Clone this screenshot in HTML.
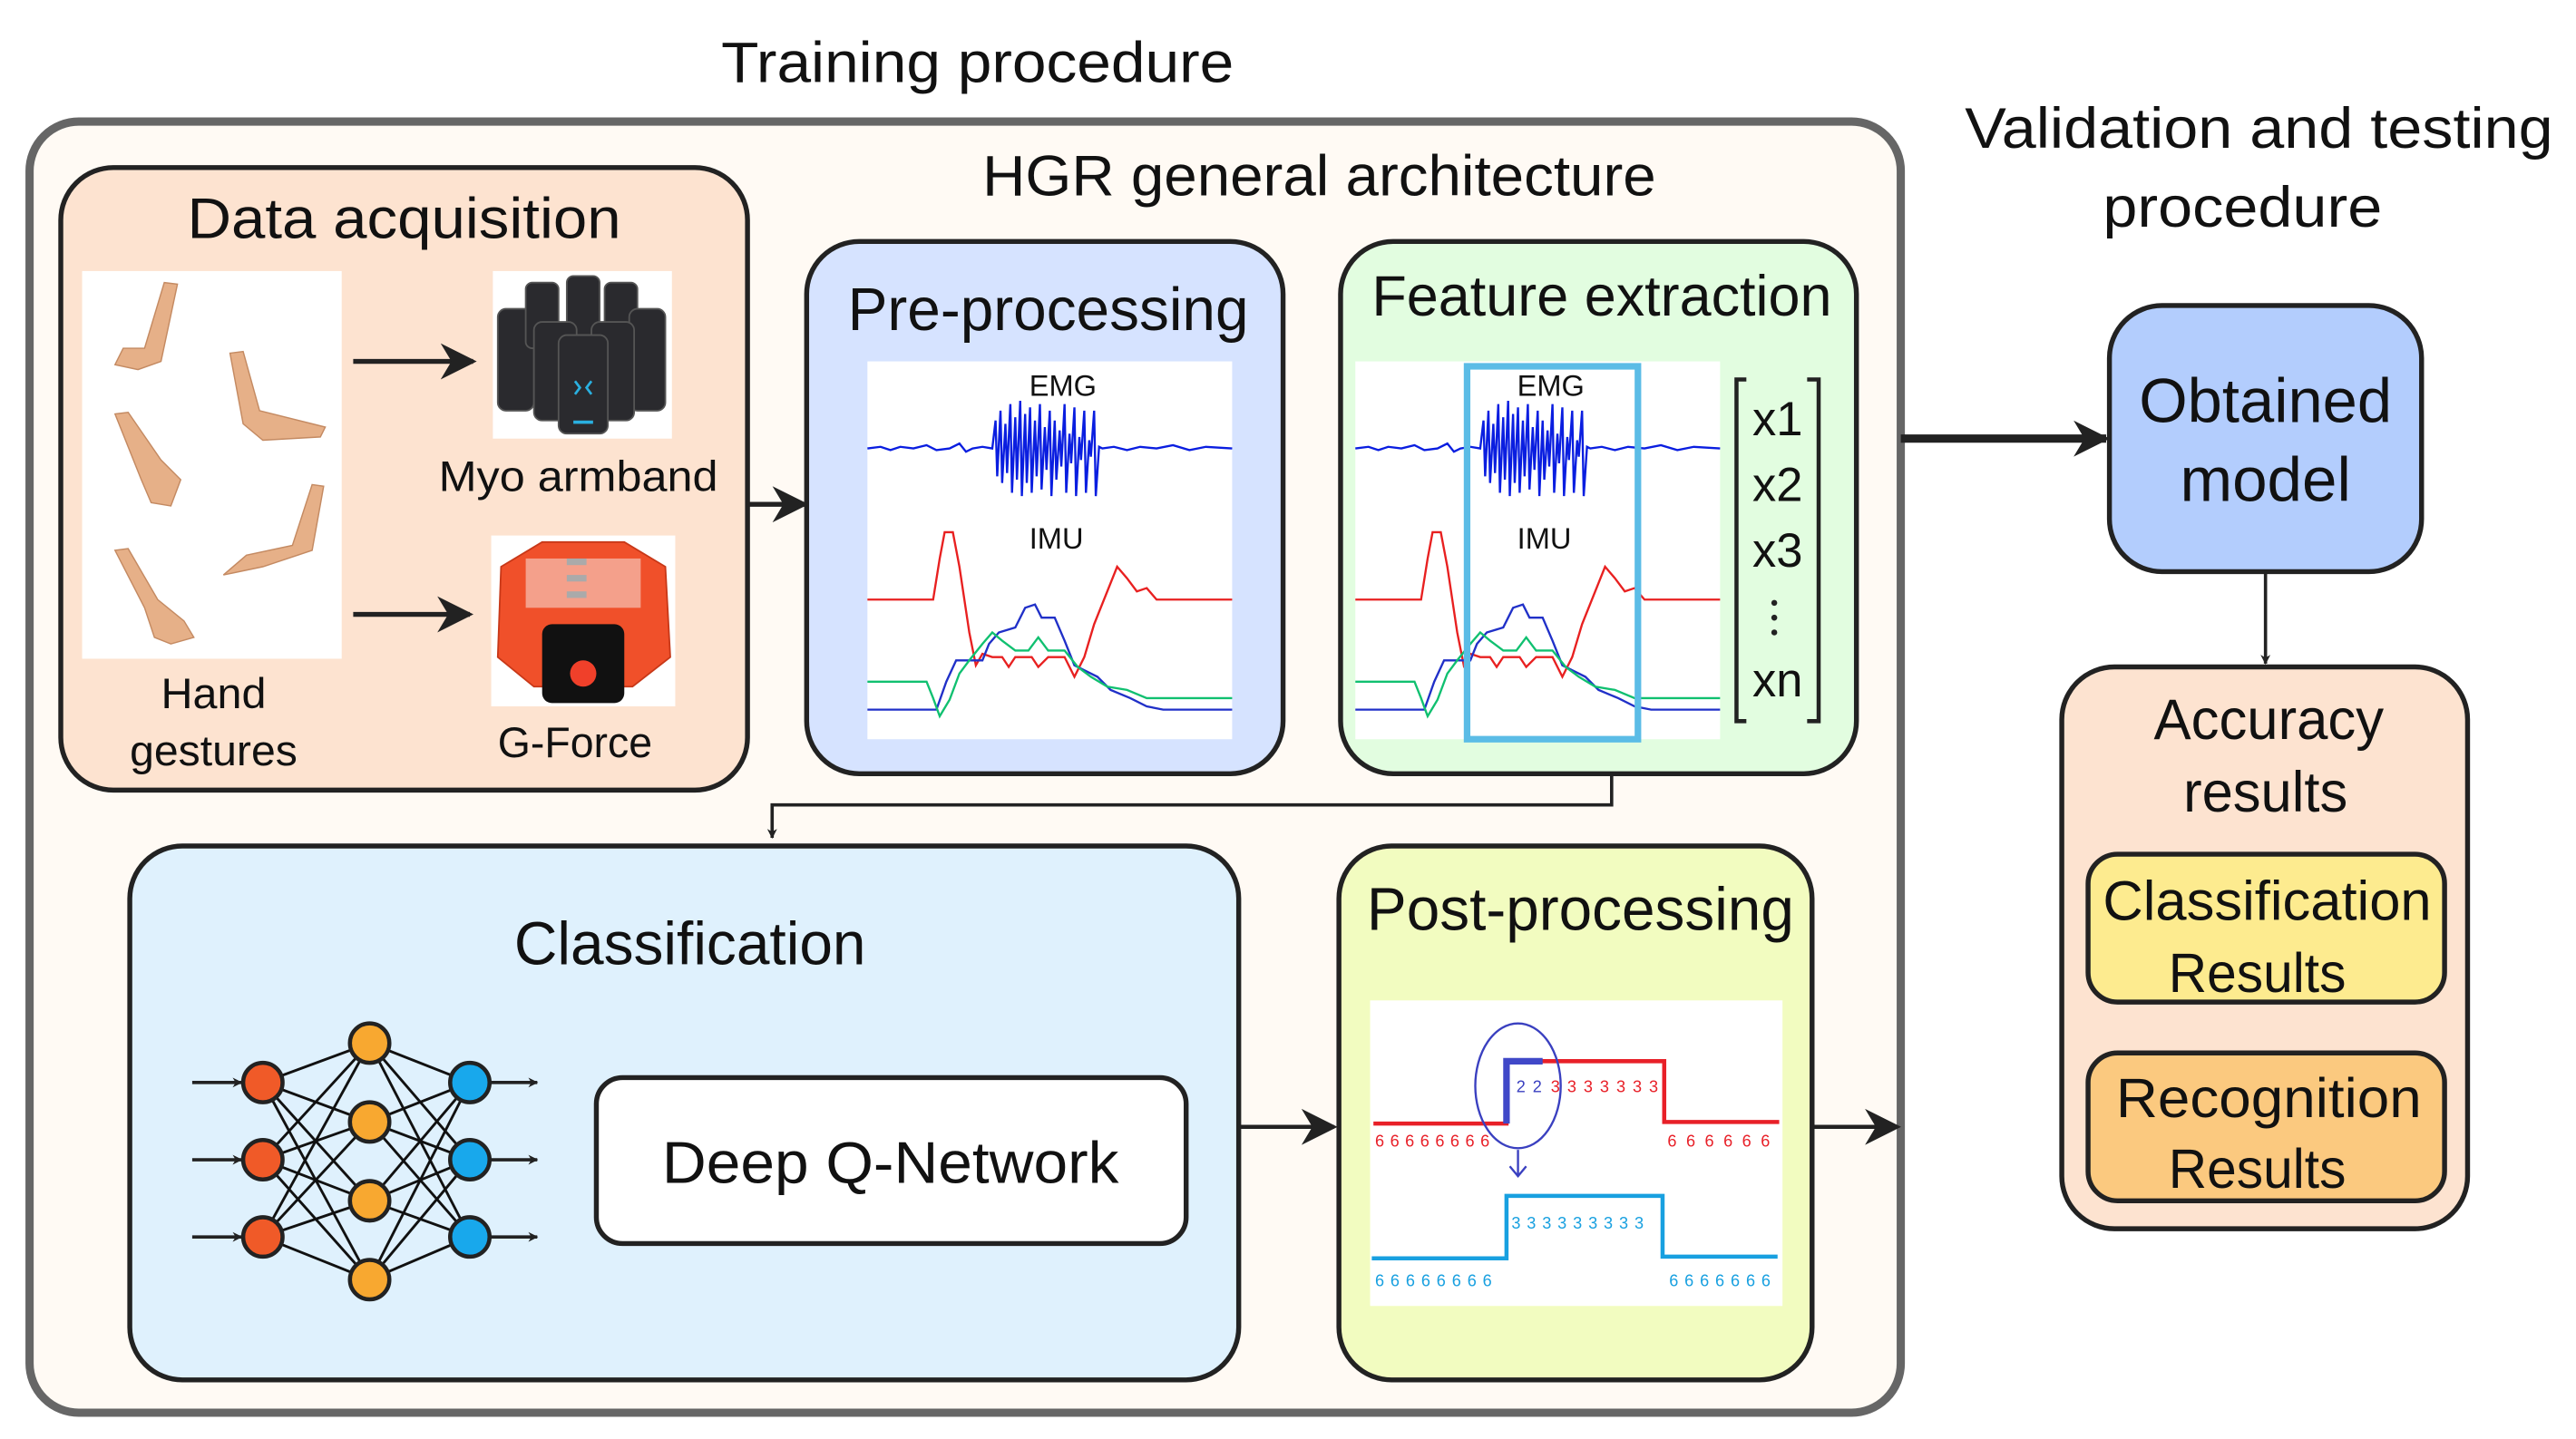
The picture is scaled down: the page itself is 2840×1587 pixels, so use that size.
<!DOCTYPE html>
<html><head><meta charset="utf-8"><style>
html,body{margin:0;padding:0;background:#fff;}
svg{display:block;}
text{font-family:"Liberation Sans",sans-serif;}
</style></head><body>
<svg width="2840" height="1587" viewBox="0 0 1568 876" preserveAspectRatio="none" xmlns="http://www.w3.org/2000/svg" fill="#111">
<defs>
<marker id="ah" viewBox="0 0 10 10" refX="9" refY="5" markerWidth="6" markerHeight="6" orient="auto" markerUnits="userSpaceOnUse">
<path d="M0,0 L10,5 L0,10 L3,5 z" fill="#222"/></marker>
<marker id="ah2" viewBox="0 0 10 10" refX="9" refY="5" markerWidth="22" markerHeight="22" orient="auto" markerUnits="userSpaceOnUse">
<path d="M0,0 L10,5 L0,10 L3,5 z" fill="#222"/></marker>
<g id="sig">
<rect x="0" y="0" width="222" height="230" fill="#fff"/>
<polyline fill="none" stroke="#0a1ee0" stroke-width="1.3" points="0,53 8,52 14,54 20,52 28,53 36,51 42,54 50,53 56,50 60,55 64,53 70,52 76,53 78,36 79,70 81,30 82,74 84,38 85,68 87,26 88,80 90,34 91,72 93,24 94,82 96,32 97,74 99,28 100,80 102,36 103,70 105,26 106,78 108,40 109,66 111,30 112,82 114,36 115,72 117,42 118,64 120,26 121,80 123,44 124,62 126,28 127,82 129,46 130,60 132,30 133,80 135,48 136,58 138,30 139,82 141,52 143,53 150,52 158,54 166,52 176,53 186,51 196,54 206,52 222,53"/>
<polyline fill="none" stroke="#e82020" stroke-width="1.3" points="0,145 40,145 44,120 47,104 52,104 56,125 62,165 66,185 70,178 76,180 82,180 86,186 90,180 100,180 104,186 110,180 120,180 126,192 132,180 138,160 146,140 152,125 158,132 164,140 170,138 176,145 184,145 222,145"/>
<polyline fill="none" stroke="#2030c8" stroke-width="1.3" points="0,212 42,212 48,195 54,182 70,182 74,172 80,165 90,162 96,150 102,148 106,156 114,156 120,170 126,185 132,188 140,192 148,200 160,205 170,210 180,212 222,212"/>
<polyline fill="none" stroke="#10c070" stroke-width="1.3" points="0,195 36,195 40,205 44,216 50,206 56,190 62,182 70,172 76,165 82,170 90,176 98,176 104,168 110,176 120,176 128,186 136,192 146,198 158,200 170,205 222,205"/>
</g>
</defs>

<text x="595" y="50" font-size="35" text-anchor="middle" textLength="312" lengthAdjust="spacingAndGlyphs">Training procedure</text>
<text x="1375" y="90" font-size="35" text-anchor="middle" textLength="358" lengthAdjust="spacingAndGlyphs">Validation and testing</text>
<text x="1365" y="138" font-size="35" text-anchor="middle" textLength="170" lengthAdjust="spacingAndGlyphs">procedure</text>

<rect x="18" y="74" width="1139" height="786" rx="30" fill="#fffaf4" stroke="#666" stroke-width="5"/>
<text x="803" y="119" font-size="35" text-anchor="middle" textLength="410" lengthAdjust="spacingAndGlyphs">HGR general architecture</text>

<rect x="37" y="102" width="418" height="379" rx="32" fill="#fde3d0" stroke="#222" stroke-width="3"/>
<text x="246" y="145" font-size="35" text-anchor="middle" textLength="264" lengthAdjust="spacingAndGlyphs">Data acquisition</text>
<rect x="50" y="165" width="158" height="236" fill="#fff"/>
<g fill="#e6b088" stroke="#c48a62" stroke-width="0.8">
<path d="M100,172 L108,173 L98,220 L84,225 L70,222 L75,212 L88,212 z"/>
<path d="M140,215 L148,214 L158,250 L198,260 L195,266 L160,268 L148,258 z"/>
<path d="M70,252 L78,251 L98,280 L110,292 L104,308 L92,306 L86,292 z"/>
<path d="M190,295 L197,296 L190,335 L160,345 L136,350 L150,338 L178,332 z"/>
<path d="M70,335 L78,334 L96,365 L112,378 L118,388 L104,392 L94,388 L88,370 z"/>
</g>
<line x1="215" y1="220" x2="288" y2="220" stroke="#222" stroke-width="3" marker-end="url(#ah2)"/>
<line x1="215" y1="374" x2="286" y2="374" stroke="#222" stroke-width="3" marker-end="url(#ah2)"/>
<rect x="300" y="165" width="109" height="102" fill="#fff"/>
<g fill="#2a2a2e" stroke="#555" stroke-width="1">
<rect x="303" y="188" width="22" height="62" rx="5"/>
<rect x="320" y="172" width="20" height="40" rx="4"/>
<rect x="345" y="168" width="20" height="36" rx="4"/>
<rect x="368" y="172" width="20" height="40" rx="4"/>
<rect x="383" y="188" width="22" height="62" rx="5"/>
<rect x="360" y="196" width="26" height="60" rx="5"/>
<rect x="325" y="196" width="26" height="60" rx="5"/>
<rect x="340" y="204" width="30" height="60" rx="5"/>
</g>
<path d="M350,232 l3,4 l-3,4 M360,232 l-3,4 l3,4" stroke="#2ab0e0" stroke-width="1.5" fill="none"/>
<rect x="349" y="256" width="12" height="2" fill="#2ab0e0"/>
<text x="352" y="299" font-size="26" text-anchor="middle" textLength="170" lengthAdjust="spacingAndGlyphs">Myo armband</text>
<rect x="299" y="326" width="112" height="104" fill="#fff"/>
<path d="M305,345 L330,330 L380,330 L405,345 L408,400 L385,418 L325,418 L303,400 z" fill="#f0502a" stroke="#c83818"/>
<rect x="320" y="340" width="70" height="30" fill="#f8f0ec" opacity="0.5"/>
<g fill="#aaa"><rect x="345" y="340" width="12" height="4"/><rect x="345" y="350" width="12" height="4"/><rect x="345" y="360" width="12" height="4"/></g>
<rect x="330" y="380" width="50" height="48" rx="6" fill="#111"/>
<circle cx="355" cy="410" r="8" fill="#f0402a"/>
<text x="350" y="461" font-size="26" text-anchor="middle" textLength="94" lengthAdjust="spacingAndGlyphs">G-Force</text>
<text x="130" y="431" font-size="26" text-anchor="middle" textLength="64" lengthAdjust="spacingAndGlyphs">Hand</text>
<text x="130" y="466" font-size="26" text-anchor="middle" textLength="102" lengthAdjust="spacingAndGlyphs">gestures</text>
<line x1="455" y1="307" x2="490" y2="307" stroke="#222" stroke-width="3" marker-end="url(#ah2)"/>

<rect x="491" y="147" width="290" height="324" rx="32" fill="#d6e3ff" stroke="#222" stroke-width="3"/>
<text x="638" y="201" font-size="37" text-anchor="middle" textLength="244" lengthAdjust="spacingAndGlyphs">Pre-processing</text>
<use href="#sig" x="528" y="220"/>
<text x="647" y="241" font-size="18" text-anchor="middle">EMG</text>
<text x="643" y="334" font-size="18" text-anchor="middle">IMU</text>

<rect x="816" y="147" width="314" height="324" rx="32" fill="#e2fde0" stroke="#222" stroke-width="3"/>
<text x="975" y="192" font-size="35" text-anchor="middle" textLength="280" lengthAdjust="spacingAndGlyphs">Feature extraction</text>
<use href="#sig" x="825" y="220"/>
<rect x="893" y="223" width="104" height="227" fill="none" stroke="#5bbce6" stroke-width="4"/>
<text x="944" y="241" font-size="18" text-anchor="middle">EMG</text>
<text x="940" y="334" font-size="18" text-anchor="middle">IMU</text>
<path d="M1063,231 L1057,231 L1057,439 L1063,439 M1100,231 L1107,231 L1107,439 L1100,439" fill="none" stroke="#222" stroke-width="2.5"/>
<g font-size="29" text-anchor="middle">
<text x="1082" y="265">x1</text><text x="1082" y="305">x2</text><text x="1082" y="345">x3</text><text x="1082" y="424">xn</text></g>
<g fill="#222"><circle cx="1080" cy="367" r="1.8"/><circle cx="1080" cy="376" r="1.8"/><circle cx="1080" cy="385" r="1.8"/></g>

<polyline points="981,471 981,490 470,490 470,510" fill="none" stroke="#222" stroke-width="2" marker-end="url(#ah)"/>

<rect x="79" y="515" width="675" height="325" rx="32" fill="#dff1fd" stroke="#222" stroke-width="3"/>
<text x="420" y="587" font-size="37" text-anchor="middle" textLength="214" lengthAdjust="spacingAndGlyphs">Classification</text>
<g stroke="#111" stroke-width="1.6">
<line x1="160" y1="659" x2="225" y2="635"/><line x1="160" y1="659" x2="225" y2="683"/><line x1="160" y1="659" x2="225" y2="731"/><line x1="160" y1="659" x2="225" y2="779"/>
<line x1="160" y1="706" x2="225" y2="635"/><line x1="160" y1="706" x2="225" y2="683"/><line x1="160" y1="706" x2="225" y2="731"/><line x1="160" y1="706" x2="225" y2="779"/>
<line x1="160" y1="753" x2="225" y2="635"/><line x1="160" y1="753" x2="225" y2="683"/><line x1="160" y1="753" x2="225" y2="731"/><line x1="160" y1="753" x2="225" y2="779"/>
<line x1="286" y1="659" x2="225" y2="635"/><line x1="286" y1="659" x2="225" y2="683"/><line x1="286" y1="659" x2="225" y2="731"/><line x1="286" y1="659" x2="225" y2="779"/>
<line x1="286" y1="706" x2="225" y2="635"/><line x1="286" y1="706" x2="225" y2="683"/><line x1="286" y1="706" x2="225" y2="731"/><line x1="286" y1="706" x2="225" y2="779"/>
<line x1="286" y1="753" x2="225" y2="635"/><line x1="286" y1="753" x2="225" y2="683"/><line x1="286" y1="753" x2="225" y2="731"/><line x1="286" y1="753" x2="225" y2="779"/>
</g>
<g stroke="#222" stroke-width="2">
<line x1="117" y1="659" x2="147" y2="659" marker-end="url(#ah)"/><line x1="117" y1="706" x2="147" y2="706" marker-end="url(#ah)"/><line x1="117" y1="753" x2="147" y2="753" marker-end="url(#ah)"/>
<line x1="298" y1="659" x2="327" y2="659" marker-end="url(#ah)"/><line x1="298" y1="706" x2="327" y2="706" marker-end="url(#ah)"/><line x1="298" y1="753" x2="327" y2="753" marker-end="url(#ah)"/>
</g>
<g stroke="#222" stroke-width="2.5">
<circle cx="160" cy="659" r="12" fill="#f05a28"/><circle cx="160" cy="706" r="12" fill="#f05a28"/><circle cx="160" cy="753" r="12" fill="#f05a28"/>
<circle cx="225" cy="635" r="12" fill="#f8a830"/><circle cx="225" cy="683" r="12" fill="#f8a830"/><circle cx="225" cy="731" r="12" fill="#f8a830"/><circle cx="225" cy="779" r="12" fill="#f8a830"/>
<circle cx="286" cy="659" r="12" fill="#18a8ec"/><circle cx="286" cy="706" r="12" fill="#18a8ec"/><circle cx="286" cy="753" r="12" fill="#18a8ec"/>
</g>
<rect x="363" y="656" width="359" height="101" rx="16" fill="#fff" stroke="#222" stroke-width="3"/>
<text x="542" y="720" font-size="36" text-anchor="middle" textLength="278" lengthAdjust="spacingAndGlyphs">Deep Q-Network</text>
<line x1="754" y1="686" x2="812" y2="686" stroke="#222" stroke-width="2.5" marker-end="url(#ah2)"/>

<rect x="815" y="515" width="288" height="325" rx="32" fill="#f2fcc0" stroke="#222" stroke-width="3"/>
<text x="962" y="566" font-size="37" text-anchor="middle" textLength="260" lengthAdjust="spacingAndGlyphs">Post-processing</text>
<rect x="834" y="609" width="251" height="186" fill="#fff"/>
<polyline points="836,684 917,684 917,646 1013,646 1013,683 1083,683" fill="none" stroke="#e82028" stroke-width="2.5"/>
<polyline points="917,684 917,646 939,646" fill="none" stroke="#4048c8" stroke-width="4"/>
<ellipse cx="924" cy="661" rx="26" ry="38" fill="none" stroke="#3a40c0" stroke-width="1.3"/>
<path d="M924,700 L924,716 M919,710 L924,716 L929,710" fill="none" stroke="#3a40c0" stroke-width="1.3"/>
<polyline points="835,766 917,766 917,728 1012,728 1012,765 1082,765" fill="none" stroke="#18a0e0" stroke-width="2.5"/>
<g font-size="10" fill="#e82028">
<text x="837" y="698" letter-spacing="3.6">66666666</text>
<text x="1015" y="698" letter-spacing="5.8">666666</text>
<text x="944" y="665" letter-spacing="4.4">3333333</text></g>
<text x="923" y="665" font-size="10" fill="#3a40c0" letter-spacing="4.4">22</text>
<g font-size="10" fill="#18a0e0">
<text x="920" y="748" letter-spacing="3.8">333333333</text>
<text x="837" y="783" letter-spacing="3.8">66666666</text>
<text x="1016" y="783" letter-spacing="3.8">6666666</text></g>
<line x1="1103" y1="686" x2="1155" y2="686" stroke="#222" stroke-width="2.5" marker-end="url(#ah2)"/>

<line x1="1157" y1="267" x2="1282" y2="267" stroke="#222" stroke-width="5" marker-end="url(#ah2)"/>
<rect x="1284" y="186" width="190" height="162" rx="32" fill="#b3cdfd" stroke="#222" stroke-width="3"/>
<text x="1379" y="257" font-size="38" text-anchor="middle" textLength="154" lengthAdjust="spacingAndGlyphs">Obtained</text>
<text x="1379" y="305" font-size="38" text-anchor="middle" textLength="104" lengthAdjust="spacingAndGlyphs">model</text>
<line x1="1379" y1="348" x2="1379" y2="404" stroke="#222" stroke-width="2" marker-end="url(#ah)"/>
<rect x="1255" y="406" width="247" height="342" rx="32" fill="#fde3d0" stroke="#222" stroke-width="3"/>
<text x="1381" y="450" font-size="35" text-anchor="middle" textLength="140" lengthAdjust="spacingAndGlyphs">Accuracy</text>
<text x="1379" y="494" font-size="35" text-anchor="middle" textLength="100" lengthAdjust="spacingAndGlyphs">results</text>
<rect x="1271" y="520" width="217" height="90" rx="18" fill="#fdeb8f" stroke="#222" stroke-width="3"/>
<text x="1380" y="560" font-size="34" text-anchor="middle" textLength="200" lengthAdjust="spacingAndGlyphs">Classification</text>
<text x="1374" y="604" font-size="34" text-anchor="middle" textLength="108" lengthAdjust="spacingAndGlyphs">Results</text>
<rect x="1271" y="641" width="217" height="90" rx="18" fill="#fbc97f" stroke="#222" stroke-width="3"/>
<text x="1381" y="680" font-size="34" text-anchor="middle" textLength="186" lengthAdjust="spacingAndGlyphs">Recognition</text>
<text x="1374" y="723" font-size="34" text-anchor="middle" textLength="108" lengthAdjust="spacingAndGlyphs">Results</text>
</svg>
</body></html>
